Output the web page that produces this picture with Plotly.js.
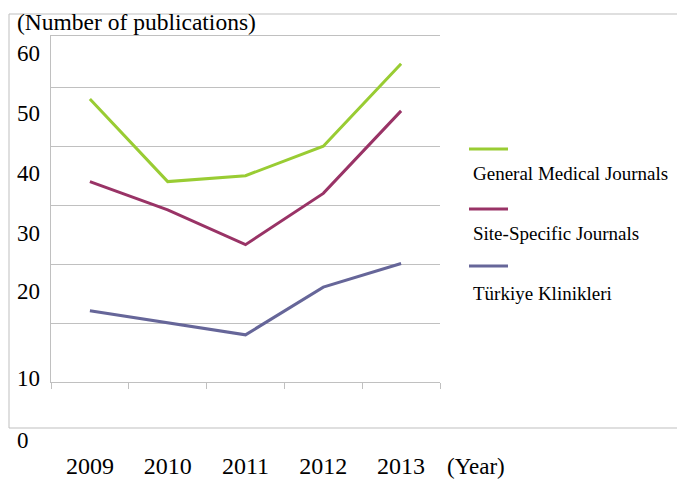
<!DOCTYPE html>
<html>
<head>
<meta charset="utf-8">
<script src="https://cdn.plot.ly/plotly-3.0.1.min.js"></script>
<style>html,body{margin:0;padding:0;background:#fff;}#chart{width:677px;height:482px;}</style>
</head>
<body>
<div id="chart"></div>
<script>
// ---- data ----
const years = ['2009', '2010', '2011', '2012', '2013'];
const seriesNames = ['General Medical Journals', 'Site-Specific Journals', 'Türkiye Klinikleri'];
const generalMedical = [48, 34, 35, 40, 54];
const siteSpecific = [34, 29.2, 23.3, 32, 46];
const turkiyeKlinikleri = [12.1, 10, 8, 16.1, 20.1];
const yLabels = ['60', '50', '40', '30', '20', '10', '0'];
const yAxisTitle = '(Number of publications)';
const xAxisTitle = '(Year)';

// ---- styles ----
const colors = ['#99cc33', '#993366', '#666699'];
const serif = 'Liberation Serif';
const gridCol = '#c0c0c0';

const seriesValues = [generalMedical, siteSpecific, turkiyeKlinikleri];
const traces = seriesValues.map((vals, i) => ({
  type: 'scatter', mode: 'lines', x: years, y: vals, name: seriesNames[i],
  line: {color: colors[i], width: 3}, showlegend: false, hoverinfo: 'x+y+name'
}));

// plot area in pixels: left 51, right 440, top 36, bottom 382
const L = 51, R = 440, T = 36, B = 382;
const px = x => (x - L) / (R - L);
const py = y => (B - y) / (B - T);

// misplaced y labels as in the reference
const yLabelPix = [53, 113, 173, 233, 291, 378, 441];
const annotations = yLabels.map((t, i) => ({
  xref: 'paper', yref: 'paper', x: px(15), y: py(yLabelPix[i]),
  xanchor: 'left', yanchor: 'middle', text: t, showarrow: false,
  font: {family: serif, size: 23, color: '#000'}
}));
annotations.push({xref: 'paper', yref: 'paper', x: px(15), y: py(22), xanchor: 'left', yanchor: 'middle',
  text: yAxisTitle, showarrow: false, font: {family: serif, size: 23.5, color: '#000'}});
annotations.push({xref: 'paper', yref: 'paper', x: px(445), y: py(467), xanchor: 'left', yanchor: 'middle',
  text: xAxisTitle, showarrow: false, font: {family: serif, size: 23, color: '#000'}});

// custom legend (line sample above text)
const legLineY = [149, 209, 266];
const legTextY = [173, 233, 293];
const shapes = [];
seriesNames.forEach((n, i) => {
  shapes.push({type: 'line', xref: 'paper', yref: 'paper', x0: px(469), x1: px(508), y0: py(legLineY[i]), y1: py(legLineY[i]),
    line: {color: colors[i], width: 3}});
  annotations.push({xref: 'paper', yref: 'paper', x: px(471), y: py(legTextY[i]), xanchor: 'left', yanchor: 'middle',
    text: n, showarrow: false, font: {family: serif, size: 19, color: '#000'}});
});
// outer frame (left, top, bottom)
shapes.push({type: 'line', xref: 'paper', yref: 'paper', x0: px(9), x1: px(9), y0: py(428), y1: py(14), line: {color: '#bfbfbf', width: 1}});
shapes.push({type: 'line', xref: 'paper', yref: 'paper', x0: px(9), x1: px(678), y0: py(14), y1: py(14), line: {color: '#bfbfbf', width: 1}});
shapes.push({type: 'line', xref: 'paper', yref: 'paper', x0: px(9), x1: px(678), y0: py(428), y1: py(428), line: {color: '#bfbfbf', width: 1}});

const layout = {
  width: 677, height: 482,
  margin: {l: L, r: 677 - R, t: T, b: 482 - B, pad: 0},
  paper_bgcolor: '#fff', plot_bgcolor: '#fff',
  showlegend: false,
  font: {family: serif},
  xaxis: {
    type: 'category', range: [-0.5, 4.5], showgrid: false, zeroline: false,
    showline: true, mirror: true, linecolor: gridCol, linewidth: 1,
    ticks: 'outside', tickson: 'boundaries', ticklen: 6, tickcolor: gridCol,
    ticklabelstandoff: 62,
    tickfont: {family: serif, size: 24, color: '#000'}
  },
  yaxis: {
    range: [0, 58.7], dtick: 10, tick0: 0, showticklabels: false,
    showgrid: true, gridcolor: gridCol, gridwidth: 1, zeroline: false,
    showline: true, linecolor: gridCol, linewidth: 1, ticks: ''
  },
  annotations: annotations,
  shapes: shapes
};

Plotly.newPlot('chart', traces, layout, {displayModeBar: false, staticPlot: true});
</script>
</body>
</html>
